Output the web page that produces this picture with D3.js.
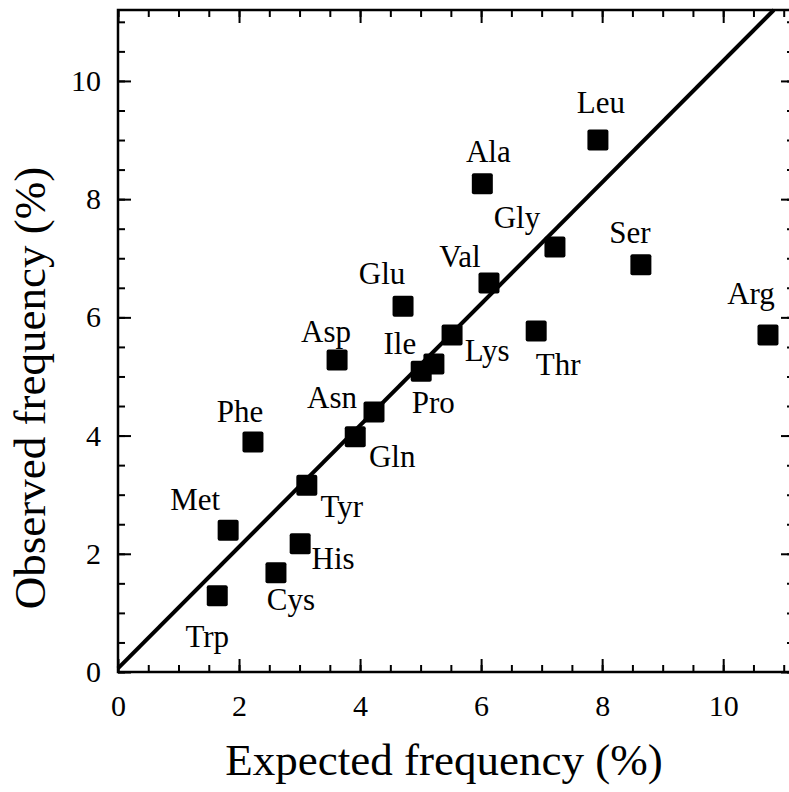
<!DOCTYPE html>
<html>
<head>
<meta charset="utf-8">
<script src="https://cdn.jsdelivr.net/npm/d3@7"></script>
<style>
  body { margin: 0; background: #fff; }
  svg { display: block; }
  text { font-family: "Liberation Serif", "Times New Roman", serif; fill: #000; }
</style>
</head>
<body>
<div id="chart"></div>
<script>
// amino acid names, expected (x) and observed (y) frequencies, in %
var names    = ['Trp', 'Met', 'Phe', 'Cys', 'His', 'Tyr', 'Gln', 'Asn', 'Asp', 'Glu',
                'Ile', 'Pro', 'Lys', 'Val', 'Ala', 'Gly', 'Thr', 'Leu', 'Ser', 'Arg']
var expected = [1.64, 1.82, 2.23, 2.61, 3.01, 3.12, 3.92, 4.23, 3.62, 4.71,
                5.22, 5.01, 5.52, 6.13, 6.02, 7.22, 6.91, 7.93, 8.64, 10.74]
var observed = [1.29, 2.40, 3.89, 1.68, 2.17, 3.16, 3.98, 4.40, 5.28, 6.19,
                5.21, 5.09, 5.70, 6.58, 8.26, 7.19, 5.77, 9.00, 6.89, 5.70]

// fitted line y = a + b x
var fitIntercept = 0.06
var fitSlope = 1.028

var xTicks = [0, 2, 4, 6, 8, 10]
var yTicks = [0, 2, 4, 6, 8, 10]

// label placement, pixel offset from the marker centre (text centre, baseline)
var labelOffset = {
    Leu: [3, -27], Ala: [6, -22], Gly: [-38, -19], Ser: [-11, -22], Val: [-29, -16],
    Arg: [-17, -31], Glu: [-21, -22], Asp: [-11, -18], Ile: [-34, -10], Pro: [12, 42],
    Lys: [35, 26], Thr: [22, 44], Asn: [-42, -4], Gln: [37, 30], Phe: [-13, -20],
    Met: [-33, -20], Tyr: [35, 32], His: [33, 25], Cys: [15, 37], Trp: [-10, 51]
}

var width = 789, height = 792
var margin = {left: 118, top: 10}
var plotW = 676, plotH = 662

var svg = d3.select('#chart').append('svg')
    .attr('width', width)
    .attr('height', height)

var g = svg.append('g')
    .attr('transform', 'translate(' + margin.left + ',' + margin.top + ')')

var x = d3.scaleLinear().domain([0, 11.17]).range([0, plotW])
var y = d3.scaleLinear().domain([0, 11.2]).range([plotH, 0])

var minorX = d3.range(0, 11.01, 0.5)
var minorY = d3.range(0, 11.01, 0.5)

function styleAxis(sel){
    sel.select('.domain').remove()
    sel.selectAll('line').attr('stroke', '#000').attr('stroke-width', 2)
    sel.selectAll('text').attr('font-size', 30).attr('font-family', '"Liberation Serif", serif')
}

// minor ticks (all four sides)
g.append('g').attr('transform', 'translate(0,' + plotH + ')')
    .call(d3.axisBottom(x).tickValues(minorX).tickSize(-7).tickFormat(''))
    .call(styleAxis)
g.append('g')
    .call(d3.axisTop(x).tickValues(minorX).tickSize(-7).tickFormat(''))
    .call(styleAxis)
g.append('g')
    .call(d3.axisLeft(y).tickValues(minorY).tickSize(-7).tickFormat(''))
    .call(styleAxis)
g.append('g').attr('transform', 'translate(' + plotW + ',0)')
    .call(d3.axisRight(y).tickValues(minorY).tickSize(-7).tickFormat(''))
    .call(styleAxis)

// major ticks with labels
g.append('g').attr('transform', 'translate(0,' + plotH + ')')
    .call(d3.axisBottom(x).tickValues(xTicks).tickSize(-13).tickPadding(23).tickFormat(d3.format('d')))
    .call(styleAxis)
g.append('g')
    .call(d3.axisTop(x).tickValues(xTicks).tickSize(-13).tickFormat(''))
    .call(styleAxis)
g.append('g')
    .call(d3.axisLeft(y).tickValues(yTicks).tickSize(-13).tickPadding(17).tickFormat(d3.format('d')))
    .call(styleAxis)
g.append('g').attr('transform', 'translate(' + plotW + ',0)')
    .call(d3.axisRight(y).tickValues(yTicks).tickSize(-13).tickFormat(''))
    .call(styleAxis)

// frame
g.append('rect')
    .attr('x', 0).attr('y', 0)
    .attr('width', plotW).attr('height', plotH)
    .attr('fill', 'none')
    .attr('stroke', '#000')
    .attr('stroke-width', 2.5)

// fitted line, clipped at the top of the plot
var xEnd = (y.domain()[1] - fitIntercept) / fitSlope
g.append('line')
    .attr('x1', x(0)).attr('y1', y(fitIntercept))
    .attr('x2', x(xEnd)).attr('y2', y(y.domain()[1]))
    .attr('stroke', '#000')
    .attr('stroke-width', 4)

var points = names.map(function(n, i){
    return {name: n, ex: expected[i], ob: observed[i]}
})

var size = 21
g.selectAll('rect.pt')
    .data(points)
    .enter()
    .append('rect')
    .attr('class', 'pt')
    .attr('x', function(d){ return x(d.ex) - size / 2 })
    .attr('y', function(d){ return y(d.ob) - size / 2 })
    .attr('width', size)
    .attr('height', size)
    .attr('rx', 2)
    .attr('fill', '#000')

g.selectAll('text.lbl')
    .data(points)
    .enter()
    .append('text')
    .attr('class', 'lbl')
    .attr('x', function(d){ return x(d.ex) + labelOffset[d.name][0] })
    .attr('y', function(d){ return y(d.ob) + labelOffset[d.name][1] })
    .attr('text-anchor', 'middle')
    .attr('font-size', 31)
    .text(function(d){ return d.name })

// axis titles
svg.append('text')
    .attr('x', 444)
    .attr('y', 775)
    .attr('text-anchor', 'middle')
    .attr('font-size', 45)
    .text('Expected frequency (%)')

svg.append('text')
    .attr('transform', 'translate(45,388) rotate(-90)')
    .attr('text-anchor', 'middle')
    .attr('font-size', 45)
    .text('Observed frequency (%)')
</script>
</body>
</html>
